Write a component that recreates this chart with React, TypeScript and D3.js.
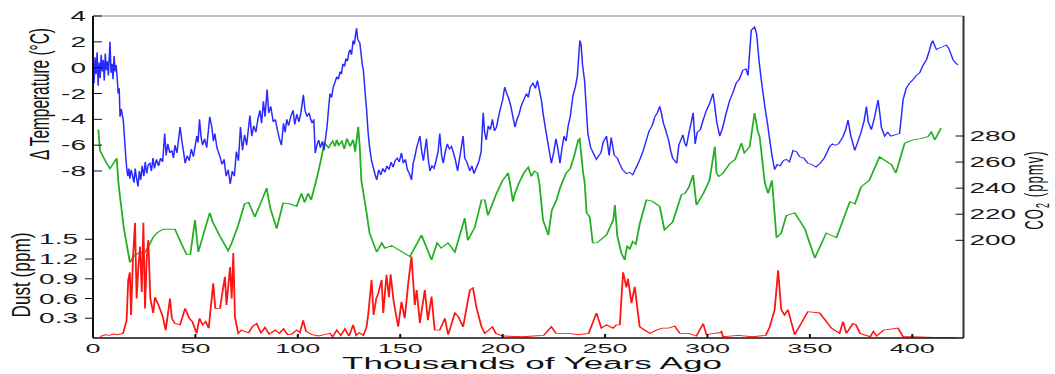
import * as d3 from 'd3'
import React from 'react'

// drawing units: the picture is 2x wider than tall-units, so the svg is stretched
const W = 527.5
const H = 374

const ageTicks = [0, 50, 100, 150, 200, 250, 300, 350, 400]
const tempTicks = [-8, -6, -4, -2, 0, 2, 4]
const co2Ticks = [200, 220, 240, 260, 280]
const dustTicks = [0.3, 0.6, 0.9, 1.2, 1.5]

// [thousands of years ago, delta temperature °C]
const temperature: [number, number][] = [
  [0, 0.2], [0.5, -1.2], [1, 0.8], [1.5, -0.5], [2, 1.2], [2.5, -1.4], [3, 0.4], [3.5, -0.8],
  [4, 1.0], [4.5, -0.3], [5, 0.6], [5.5, -1.0], [6, 1.1], [6.5, -0.2], [7, 0.5], [7.5, -0.6],
  [8.3, 2.0], [8.8, -0.4], [9.3, 0.3], [9.8, -0.9], [10.3, 0.9], [10.8, -0.3], [11.3, 0.2],
  [11.8, -0.8], [12.3, -2.0], [12.8, -1.6], [13.2, -3.8], [13.8, -3.2], [14.8, -4.1], [15.4, -5.5],
  [16, -6.9], [16.4, -7.7], [17, -8.4], [17.5, -7.8], [18, -8.6], [18.6, -7.9], [19.2, -8.3],
  [20, -8.9], [20.6, -7.8], [21.2, -8.5], [22, -9.2], [22.6, -8.0], [23.3, -8.7], [24, -7.6],
  [24.8, -8.4], [25.5, -7.3], [26.2, -8.2], [27, -7.5], [27.8, -7.4], [28.5, -8.0], [29.3, -7.0],
  [30, -7.8], [31, -7.1], [32, -7.6], [33, -7.0], [34, -7.3], [35, -5.1], [35.7, -6.8],
  [36.5, -5.9], [37.5, -6.6], [38.5, -6.4], [39.3, -7.0], [40, -6.0], [41, -6.6], [42.5, -4.6],
  [43.5, -5.8], [44.2, -6.5], [45, -7.4], [46, -6.8], [47, -7.2], [48, -6.3], [49, -6.9],
  [50.7, -5.3], [51.3, -5.8], [52, -4.0], [52.8, -5.4], [53.5, -6.0], [54.5, -5.5], [55.5, -6.2],
  [57, -3.8], [58, -4.6], [58.8, -5.7], [59.5, -5.1], [60.5, -6.2], [62, -6.9], [63, -7.5],
  [64, -7.1], [65, -8.4], [66, -7.9], [67, -9.0], [68, -8.0], [69, -8.4], [70, -6.5], [71, -7.2],
  [72, -4.6], [73, -6.4], [74, -5.2], [75, -6.0], [76.6, -3.7], [77.5, -5.3], [78.5, -4.5],
  [79.5, -5.0], [80.5, -4.0], [81.5, -3.3], [82.3, -4.3], [83.2, -2.6], [84, -3.8], [85, -1.7],
  [85.8, -3.5], [86.8, -3.0], [88, -4.2], [89, -4.0], [90, -4.8], [91, -5.5], [92, -6.0],
  [93, -4.3], [93.8, -5.0], [94.6, -4.0], [95.5, -4.5], [96.5, -3.8], [97.7, -3.3], [98.5, -4.4],
  [99.5, -3.6], [100.5, -4.2], [101.5, -3.5], [102.7, -2.1], [103.5, -3.3], [104.5, -3.8],
  [105.5, -3.5], [106.3, -4.0], [107, -4.3], [107.8, -4.0], [108.5, -6.6], [109.3, -6.0],
  [110.2, -5.6], [111, -6.2], [112, -5.7], [112.8, -6.4], [113.5, -5.5], [114.3, -4.5],
  [115, -3.2], [115.7, -2.0], [116.5, -2.3], [117.3, -1.5], [118, -1.2], [119, -0.7],
  [119.8, -0.9], [120.6, -0.3], [121.3, -0.5], [122, 0.3], [122.8, 0.1], [123.5, 0.7],
  [124.2, 0.5], [125, 1.2], [125.5, 1.4], [126.2, 1.0], [127, 2.1], [127.6, 1.8], [128.2, 2.6],
  [128.7, 3.05], [129.2, 2.2], [130.3, 1.9], [131.5, 0.2], [132, -0.2], [133, -2.2],
  [133.6, -3.3], [134.3, -5.0], [135, -6.1], [136, -7.2], [136.8, -7.7], [137.6, -8.2],
  [138.5, -8.7], [139.5, -7.9], [140.5, -8.3], [141.5, -7.8], [142.5, -8.1], [143.5, -7.6],
  [144.5, -7.9], [145.5, -7.3], [146.5, -7.7], [147.5, -7.2], [148.5, -7.0], [149.5, -7.3],
  [150.6, -6.6], [151.5, -7.4], [152.5, -7.1], [153.5, -7.9], [154.5, -8.2], [155.5, -8.7],
  [156.3, -7.4], [157, -7.0], [158, -6.2], [159.6, -5.3], [160.5, -6.5], [161.3, -7.2],
  [162.8, -5.5], [163.6, -7.0], [164.5, -8.0], [165.5, -7.6], [166.5, -7.8], [167.5, -7.2],
  [168.5, -6.5], [169.3, -5.1], [170.2, -6.8], [171, -7.4], [172, -6.5], [173, -5.9],
  [174, -6.3], [175, -6.1], [176, -6.6], [177, -7.2], [178, -8.0], [179, -7.0], [180.7, -5.3],
  [181.5, -7.0], [182.5, -7.3], [184, -8.0], [185, -7.6], [186, -8.2], [187.3, -7.7],
  [188.5, -7.2], [189.5, -6.5], [190.5, -3.5], [191.2, -5.0], [192, -5.6], [193, -4.5],
  [194, -4.8], [195, -4.0], [196, -4.9], [197, -4.6], [198, -3.8], [199, -3.1], [200, -2.5],
  [201, -1.5], [202, -2.0], [203, -2.4], [204, -3.0], [205, -3.8], [206, -4.6], [207, -4.0],
  [208, -3.6], [209, -3.0], [210, -2.6], [211.7, -2.0], [212.5, -2.3], [213.5, -1.5],
  [214.8, -1.2], [216, -1.6], [217, -1.0], [218, -1.8], [219, -2.6], [219.7, -3.5], [221, -4.8],
  [222.5, -6.2], [223.8, -7.4], [225, -6.5], [226, -5.5], [227, -6.3], [228, -7.4], [229, -6.2],
  [230, -5.3], [231, -5.7], [232, -4.5], [233, -3.8], [234.3, -2.2], [235.5, -1.5],
  [236.5, -0.6], [237.7, 2.1], [238.3, 1.8], [239, 0.2], [240, -1.0], [241, -3.6], [241.6, -5.1],
  [243, -6.2], [244.5, -6.7], [245.8, -7.1], [247, -6.8], [248, -6.6], [249, -5.8],
  [250.7, -5.3], [252, -6.8], [253, -5.4], [254.5, -6.8], [256, -7.0], [257, -7.4],
  [258.5, -7.9], [260.5, -8.2], [262, -8.1], [263.5, -8.3], [265, -7.8], [266.5, -7.3],
  [268.5, -6.5], [270, -5.7], [271.5, -4.9], [273, -4.5], [274.3, -3.8], [275.5, -3.5],
  [276.7, -3.0], [277.6, -3.6], [278.5, -4.3], [279.5, -4.8], [281, -5.6], [282, -6.4],
  [283, -7.0], [285, -7.4], [286, -6.0], [287, -5.6], [288, -5.2], [289, -5.9], [289.7, -6.1],
  [291, -5.0], [292, -4.3], [293, -3.5], [294, -5.9], [295, -5.0], [296.5, -4.8], [298, -4.0],
  [299.5, -3.3], [301, -2.8], [302.7, -2.0], [303.5, -2.9], [304.5, -4.2], [306, -5.3],
  [307.5, -4.6], [309, -3.6], [310.9, -2.5], [312.5, -1.9], [314, -1.2], [315.5, -0.9],
  [317.3, -0.2], [318.8, -0.1], [319.8, -0.6], [320.5, 1.0], [321.4, 2.9], [323, 3.15],
  [324, 2.6], [325.2, 0.5], [326.3, -1.0], [328, -3.0], [329.2, -4.2], [330.4, -5.6],
  [331.5, -6.8], [332.8, -7.9], [334, -7.5], [335.5, -7.6], [337, -7.2], [338.5, -7.1],
  [340, -7.3], [341.8, -6.4], [343.5, -6.5], [345, -6.9], [347, -7.0], [349, -7.4], [351, -7.5],
  [353, -7.7], [355, -7.4], [357, -7.0], [358.5, -6.5], [359.7, -6.1], [361, -5.9],
  [362.5, -6.0], [364, -5.9], [366, -5.4], [367.5, -4.8], [368.6, -4.05], [370, -5.3],
  [371.9, -6.4], [373.5, -5.7], [375, -5.0], [376.5, -4.1], [377.6, -3.0], [378.5, -4.2],
  [380, -4.8], [381.5, -3.9], [383.3, -2.5], [384.2, -3.6], [384.9, -4.6], [386.5, -5.3],
  [388, -5.0], [389.5, -5.3], [391.5, -5.2], [393.8, -5.1], [395.5, -2.5], [397, -1.6],
  [398.7, -1.2], [400.5, -0.9], [402, -0.6], [403.6, -0.4], [405.3, 0.2], [406.9, 0.6],
  [408.3, 1.3], [409.3, 1.9], [410, 2.1], [411, 1.7], [411.8, 1.4], [413, 1.5], [414.5, 1.6],
  [416.6, 1.75], [417.8, 1.5], [419, 1.0], [419.9, 0.6], [421, 0.4], [422.3, 0.2],
]

// [thousands of years ago, CO2 ppmv]
const co2: [number, number][] = [
  [2.6, 285], [3.4, 269], [5, 264], [6.7, 259], [8.3, 255], [10, 259], [11.6, 263], [12.3, 246],
  [13, 236], [15, 210], [18, 183], [20, 188], [23, 191], [25, 190], [27, 195], [29.4, 202.5],
  [31.5, 206], [34.3, 208.5], [40, 208.5], [43, 198], [45.7, 189], [47.5, 189], [49.8, 215.6],
  [51.4, 191], [54, 205], [57, 221], [58.5, 214], [62, 203], [66, 192], [67.5, 197], [71, 212],
  [74, 228], [76, 229], [79, 218], [82, 229], [84.8, 240], [86.5, 225], [89.7, 209],
  [92.8, 228.5], [96, 228], [99.4, 226], [101.8, 236], [103.3, 229], [105, 236], [106.5, 231],
  [109, 246], [110.5, 256], [113, 274.6], [115, 271], [117, 276], [118.2, 272], [119, 277],
  [120, 273], [121.5, 276], [122.7, 270], [124, 278], [125.5, 272], [127, 277], [128, 268],
  [129.5, 287], [130.3, 270], [131, 246], [133.6, 221], [135, 205.6], [138.5, 191], [141, 198],
  [142.5, 194], [145.8, 196], [150, 192], [154.7, 187.5], [160.4, 204], [165.3, 185], [168, 198],
  [170, 194], [173.3, 198], [176.7, 191], [181.5, 217], [183, 200], [186.4, 210], [189.7, 231],
  [191.3, 231], [192.8, 219], [197, 236], [198.5, 241], [200, 246], [201.5, 249], [202.7, 251.6],
  [204, 240], [205, 229.6], [206, 236], [208, 244], [210.5, 252], [212.5, 256], [214, 249],
  [215.5, 253], [217, 251.6], [218, 243], [219.7, 215.6], [222.3, 204], [224, 223],
  [226.3, 231], [228, 240], [229.5, 246], [231, 251.6], [233, 255], [235, 265], [236.9, 277],
  [237.6, 278], [239.3, 251.6], [240, 245], [241, 221], [242.5, 218], [244, 198], [246, 198],
  [250.7, 204], [254, 215.6], [254.8, 227], [256, 203], [258, 190], [259.6, 185], [260.8, 196],
  [262, 193], [263.5, 199], [265, 197], [267, 213], [270.2, 231], [273, 230], [276.7, 226],
  [279, 208], [283, 214], [287.3, 235], [289, 236], [291, 241], [293, 250], [294.6, 227],
  [296.5, 232], [298, 236], [299.5, 241], [301, 246], [302, 256], [303.6, 271.8], [304.4, 251.6],
  [305.5, 249], [307.6, 251.6], [310.9, 259], [313.5, 262], [316.6, 274.6], [318, 267],
  [320.6, 271.8], [323, 297.6], [324.5, 284], [325.5, 279], [328, 244], [329.6, 236],
  [331.5, 246], [333.7, 202], [336, 205.6], [338.5, 219], [342.6, 221], [347.5, 209],
  [352.4, 186.4], [358, 205.6], [363, 202], [369.5, 229.6], [372, 228], [375, 241], [379, 246],
  [381.5, 255], [384, 264], [389.8, 258], [392, 251.6], [396.3, 274.6], [400.3, 277], [404, 278],
  [407.6, 279.5], [409.3, 283], [411, 277], [414, 286],
]

// [thousands of years ago, dust ppm]
const dust: [number, number][] = [
  [3.4, 0.02], [6, 0.05], [8, 0.04], [10, 0.06], [12, 0.05], [14.7, 0.07], [16.4, 0.27],
  [17.2, 0.88], [18, 1.0], [18.6, 0.35], [19.5, 1.2], [20.5, 1.75], [21.3, 0.6], [22.2, 1.1],
  [23, 1.39], [23.8, 0.7], [24.6, 1.75], [25.4, 0.45], [26.2, 1.2], [27, 1.49], [28, 0.6],
  [29.4, 0.38], [30.2, 0.62], [32, 0.5], [34, 0.33], [35.5, 0.12], [37.6, 0.6], [38.5, 0.3],
  [40, 0.22], [42.5, 0.2], [45, 0.45], [47, 0.3], [48.5, 0.25], [50.6, 0.07], [52, 0.3],
  [53.5, 0.2], [55, 0.25], [56.5, 0.15], [58.7, 0.83], [59.7, 0.45], [62, 0.45], [64.4, 0.93],
  [65.2, 0.5], [66.9, 1.08], [67.7, 0.6], [68.5, 1.29], [69.3, 0.32], [70.9, 0.07], [72.5, 0.12],
  [74, 0.1], [76, 0.08], [78, 0.18], [79.9, 0.22], [82, 0.08], [84, 0.16], [86, 0.06], [89, 0.12],
  [91, 0.07], [93, 0.14], [95, 0.05], [97, 0.06], [99.5, 0.12], [101, 0.08], [102.6, 0.27],
  [104, 0.1], [107, 0.05], [110, 0.03], [113, 0.05], [115.7, 0.07], [117, 0.02], [119, 0.12],
  [121, 0.04], [123, 0.14], [125, 0.03], [127, 0.2], [128.5, 0.04], [130, 0.08], [132, 0.04],
  [133.6, 0.17], [134.4, 0.37], [136, 0.88], [137, 0.35], [138.3, 0.6], [139.3, 0.68],
  [140.9, 0.88], [141.7, 0.38], [143.3, 0.96], [144.5, 0.62], [145.3, 0.97], [146.8, 0.55],
  [149, 0.17], [150.6, 0.55], [152.2, 0.3], [153.9, 0.83], [155.5, 1.24], [157.1, 0.5],
  [158, 0.73], [159.6, 0.23], [162, 0.73], [163.5, 0.27], [165.3, 0.63], [166.8, 0.12],
  [169.3, 0.12], [171.8, 0.3], [173.4, 0.05], [176.7, 0.38], [178.3, 0.33], [180.7, 0.17],
  [184, 0.73], [185.5, 0.76], [187.3, 0.45], [189.7, 0.17], [191.3, 0.07], [195, 0.17],
  [196.7, 0.07], [200, 0.03], [210, 0.02], [215, 0.03], [220, 0.04], [223.8, 0.17], [226, 0.07],
  [232, 0.07], [237, 0.05], [242, 0.07], [245.8, 0.38], [248.2, 0.15], [250.7, 0.2],
  [253.9, 0.15], [255.5, 0.2], [257.2, 0.2], [258.8, 1.0], [260.4, 0.77], [261.2, 0.9],
  [262.9, 0.53], [264.5, 0.78], [266.9, 0.17], [269.4, 0.12], [271.9, 0.07], [275, 0.12],
  [278, 0.15], [281, 0.15], [284, 0.18], [286.5, 0.07], [291, 0.07], [294.6, 0.03],
  [297.9, 0.22], [299.5, 0.05], [303, 0.07], [306, 0.08], [306.8, 0.1], [307.6, 0.02],
  [315, 0.04], [322, 0.02], [328.5, 0.04], [330.4, 0.17], [332.8, 0.43], [334.5, 1.03],
  [336, 0.43], [337.6, 0.35], [339.3, 0.43], [342.6, 0.05], [349, 0.4], [354.8, 0.38],
  [360.5, 0.15], [364.5, 0.07], [366.2, 0.25], [367.8, 0.07], [371, 0.22], [372.5, 0.2],
  [374.5, 0.07], [379.5, 0.02], [381, 0.1], [382.6, 0.03], [386, 0.12], [393, 0.15],
  [395.5, 0.02], [400, 0.02], [410, 0.01], [421.5, 0.01],
]

const font = 'Liberation Sans, Arial, Helvetica, sans-serif'

export default function App() {
  const left = 46.5
  const right = 481.75
  const top = 16
  const bottom = 338

  const x = d3.scaleLinear().domain([0, 425]).range([left, right])
  const yTemp = d3.scaleLinear().domain([-8, 4]).range([171, top])
  const yCo2 = d3.scaleLinear().domain([200, 280]).range([240.3, 136])
  const yDust = d3.scaleLinear().domain([0, 1.5]).range([bottom, 239.3])

  const tempLine = d3.line<[number, number]>().x(d => x(d[0])).y(d => yTemp(d[1]))
  const co2Line = d3.line<[number, number]>().x(d => x(d[0])).y(d => yCo2(d[1]))
  const dustLine = d3.line<[number, number]>().x(d => x(d[0])).y(d => yDust(d[1]))

  return (
    <svg
      width={1055}
      height={H}
      viewBox={`0 0 ${W} ${H}`}
      preserveAspectRatio="none"
      style={{ position: 'absolute', left: 0, top: 0, background: '#fff' }}
      fontFamily={font}
    >
      {/* data */}
      <path d={co2Line(co2) || ''} fill="none" stroke="#22b022" strokeWidth={0.9} />
      <path d={dustLine(dust) || ''} fill="none" stroke="#ff1414" strokeWidth={0.9} />
      <path d={tempLine(temperature) || ''} fill="none" stroke="#2a2aff" strokeWidth={0.75} />

      {/* frame */}
      <line x1={left} x2={right} y1={top} y2={top} stroke="#888" strokeWidth={1} />
      <line x1={right} x2={right} y1={top} y2={bottom} stroke="#333" strokeWidth={1} />
      <line x1={left} x2={left} y1={top} y2={bottom} stroke="#111" strokeWidth={1} />
      <line x1={left} x2={right} y1={bottom} y2={bottom} stroke="#111" strokeWidth={1.3} />

      {/* temperature axis, ticks inside */}
      {tempTicks.map(t => (
        <g key={'t' + t}>
          <line x1={left} x2={left + 4.5} y1={yTemp(t)} y2={yTemp(t)} stroke="#111" />
          <text x={43} y={yTemp(t)} dy="0.36em" textAnchor="end" fontSize={14} fill="#1a1a1a">
            {t}
          </text>
        </g>
      ))}

      {/* dust axis, ticks outside */}
      {dustTicks.map(t => (
        <g key={'d' + t}>
          <line x1={left - 4} x2={left} y1={yDust(t)} y2={yDust(t)} stroke="#111" />
          <text x={39} y={yDust(t)} dy="0.36em" textAnchor="end" fontSize={14} fill="#1a1a1a">
            {t.toFixed(1)}
          </text>
        </g>
      ))}

      {/* co2 axis, ticks inside */}
      {co2Ticks.map(t => (
        <g key={'c' + t}>
          <line x1={right - 4} x2={right} y1={yCo2(t)} y2={yCo2(t)} stroke="#111" />
          <text x={484.7} y={yCo2(t)} dy="0.36em" textAnchor="start" fontSize={14} fill="#1a1a1a">
            {t}
          </text>
        </g>
      ))}

      {/* age axis */}
      {ageTicks.map(t => (
        <g key={'a' + t}>
          <line x1={x(t)} x2={x(t)} y1={bottom} y2={bottom - 4} stroke="#111" />
          <text x={x(t)} y={353} textAnchor="middle" fontSize={13.5} fill="#1a1a1a">
            {t}
          </text>
        </g>
      ))}

      {/* titles */}
      <text
        x={266}
        y={369}
        textAnchor="middle"
        fontSize={16}
        fill="#111"
        textLength={190}
        lengthAdjust="spacingAndGlyphs"
      >
        Thousands of Years Ago
      </text>
      <text
        transform="translate(24.5,94) rotate(-90)"
        textAnchor="middle"
        fontSize={14}
        fill="#111"
        textLength={132}
        lengthAdjust="spacingAndGlyphs"
      >
        Δ Temperature (°C)
      </text>
      <text
        transform="translate(15,275) rotate(-90)"
        textAnchor="middle"
        fontSize={12.8}
        fill="#111"
        textLength={85}
        lengthAdjust="spacingAndGlyphs"
      >
        Dust (ppm)
      </text>
      <text
        transform="translate(521.5,190) rotate(-90)"
        textAnchor="middle"
        fontSize={13}
        letterSpacing={1.1}
        fill="#111"
      >
        CO
        <tspan fontSize={9} dy={3}>2</tspan>
        <tspan dy={-3}> (ppmv)</tspan>
      </text>
    </svg>
  )
}
